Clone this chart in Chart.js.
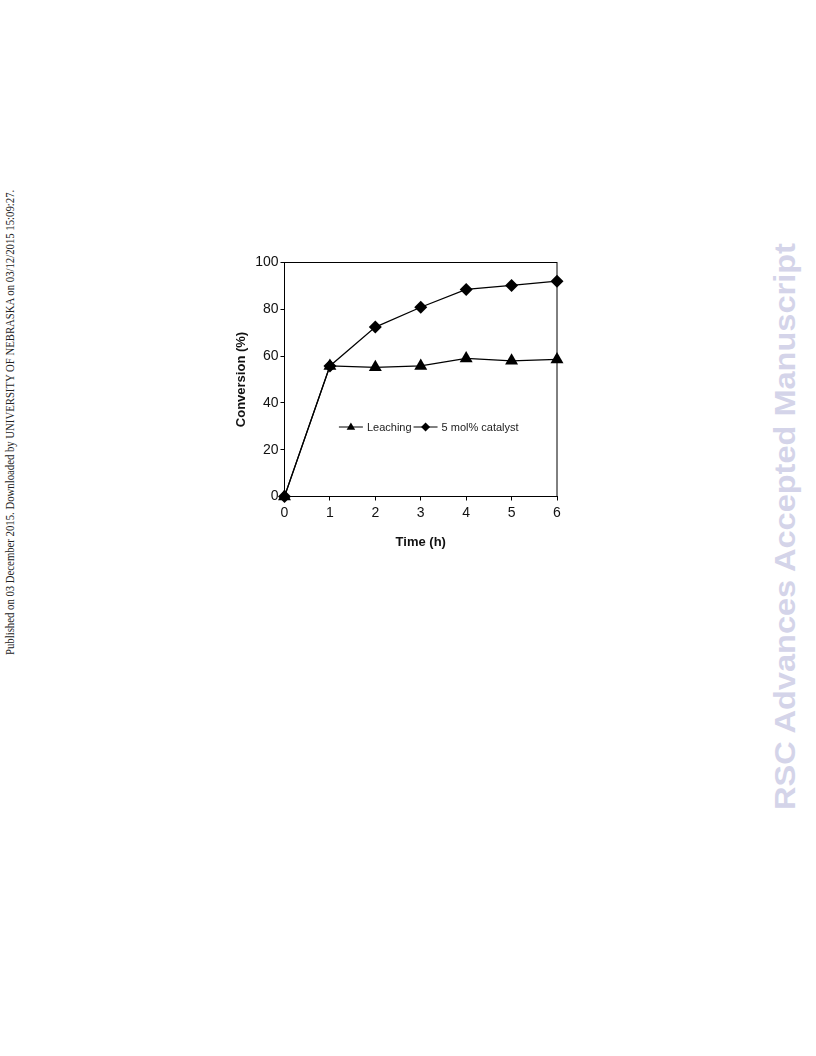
<!DOCTYPE html>
<html lang="en">
<head>
    <meta charset="UTF-8">
    <title>Conversion vs time</title>
    <script src="https://cdn.jsdelivr.net/npm/chart.js"></script>
    <style>
        body { margin: 0; width: 816px; height: 1056px; background: #fff; position: relative; overflow: hidden; }
        .wrap { position: absolute; left: 225px; top: 252px; width: 345px; height: 305px; }
        .side { position: absolute; white-space: nowrap; transform-origin: 0 0; line-height: 1; }
        #pub { font-family: "Liberation Serif", "Times New Roman", serif; font-size: 12px; color: #222; }
        #rsc { font-family: "Liberation Sans", Arial, sans-serif; font-weight: bold; font-size: 30px; color: #d4d4e9; }
    </style>
</head>
<body>
    <div id="pub" class="side">Published on 03 December 2015. Downloaded by UNIVERSITY OF NEBRASKA on 03/12/2015 15:09:27.</div>
    <div id="rsc" class="side">RSC Advances Accepted Manuscript</div>
    <div class="wrap"><canvas id="grafico" width="345" height="305"></canvas></div>

    <script>
        // dados
        const tempos = [0, 1, 2, 3, 4, 5, 6];
        const leaching = [0, 55.8, 55.2, 55.8, 59.0, 58.0, 58.6];
        const catalisador = [0, 55.8, 72.4, 80.9, 88.5, 90.2, 92.0];
        const ticksY = [0, 20, 40, 60, 80, 100];
        const legendas = ["Leaching", "5 mol% catalyst"];

        // textos laterais, girados e esticados no comprimento certo
        function lateral(id, x, yTop, yBottom) {
            const el = document.getElementById(id);
            const w = el.offsetWidth, h = el.offsetHeight;
            const s = (yBottom - yTop) / w;
            el.style.left = (x - h / 2) + "px";
            el.style.top = yBottom + "px";
            el.style.transform = `rotate(-90deg) scaleX(${s})`;
        }
        lateral("pub", 10, 190, 655);
        lateral("rsc", 785, 243, 810);

        const fonte = "'Liberation Sans', Arial, sans-serif";

        const caixa = {
            id: 'caixa',
            afterDraw(chart) {
                const a = chart.chartArea, ctx = chart.ctx;
                ctx.save();
                ctx.strokeStyle = '#000';
                ctx.lineWidth = 1;
                ctx.strokeRect(a.left, a.top, a.right - a.left, a.bottom - a.top);
                ctx.restore();
            }
        };

        function marcador(ctx, tipo, x, y, r) {
            ctx.beginPath();
            if (tipo === 'triangle') {
                ctx.moveTo(x, y - r);
                ctx.lineTo(x + r * 0.95, y + r * 0.6);
                ctx.lineTo(x - r * 0.95, y + r * 0.6);
            } else {
                ctx.moveTo(x, y - r);
                ctx.lineTo(x + r, y);
                ctx.lineTo(x, y + r);
                ctx.lineTo(x - r, y);
            }
            ctx.closePath();
            ctx.fill();
        }

        const legenda = {
            id: 'legenda',
            afterDraw(chart) {
                const ctx = chart.ctx;
                const y = chart.scales.y.getPixelForValue(29.7);
                const a = chart.chartArea;
                ctx.save();
                ctx.font = "11px " + fonte;
                const linha = 24, gap = 4, entre = 2;
                const w0 = ctx.measureText(legendas[0]).width;
                const w1 = ctx.measureText(legendas[1]).width;
                const total = linha + gap + w0 + entre + linha + gap + w1;
                let x = (a.left + a.right) / 2 + 8 - total / 2;
                const tipos = ['triangle', 'diamond'];
                const ws = [w0, w1];
                ctx.fillStyle = '#000';
                ctx.strokeStyle = '#000';
                ctx.lineWidth = 1;
                ctx.textBaseline = 'middle';
                for (let i = 0; i < 2; i++) {
                    ctx.beginPath();
                    ctx.moveTo(x, y);
                    ctx.lineTo(x + linha, y);
                    ctx.stroke();
                    marcador(ctx, tipos[i], x + linha / 2, y, 4.5);
                    ctx.fillStyle = '#222';
                    ctx.fillText(legendas[i], x + linha + gap, y + 0.5);
                    ctx.fillStyle = '#000';
                    x += linha + gap + ws[i] + entre;
                }
                ctx.restore();
            }
        };

        const ctx = document.getElementById("grafico").getContext("2d");
        const grafico = new Chart(ctx, {
            type: 'line',
            data: {
                datasets: [
                    {
                        label: legendas[0],
                        data: tempos.map((t, i) => ({ x: t, y: leaching[i] })),
                        borderColor: '#000', backgroundColor: '#000', borderWidth: 1.2,
                        pointStyle: 'triangle', pointRadius: 7.5, pointBorderWidth: 0,
                        tension: 0, clip: false
                    },
                    {
                        label: legendas[1],
                        data: tempos.map((t, i) => ({ x: t, y: catalisador[i] })),
                        borderColor: '#000', backgroundColor: '#000', borderWidth: 1.2,
                        pointStyle: 'rectRot', pointRadius: 6.5, pointBorderWidth: 0,
                        tension: 0, clip: false
                    }
                ]
            },
            options: {
                responsive: false,
                animation: false,
                layout: { padding: { top: 10.5, right: 13, left: 0, bottom: 0 } },
                plugins: { legend: { display: false }, tooltip: { enabled: false } },
                scales: {
                    x: {
                        type: 'linear', min: 0, max: 6,
                        afterFit(s) { s.height = 60.5; },
                        grid: { drawOnChartArea: false, tickLength: 4, color: '#000' },
                        border: { color: '#000' },
                        ticks: { stepSize: 1, color: '#111', padding: 4, font: { family: fonte, size: 14 } },
                        title: { display: true, text: 'Time (h)', color: '#111', padding: { top: 7, bottom: 7 }, font: { family: fonte, size: 13, weight: 'bold' } }
                    },
                    y: {
                        min: 0, max: 100,
                        afterFit(s) { s.width = 59.5; },
                        afterBuildTicks(s) { s.ticks = ticksY.map(v => ({ value: v })); },
                        grid: { drawOnChartArea: false, tickLength: 4, color: '#000' },
                        border: { color: '#000' },
                        ticks: { color: '#111', padding: 2, font: { family: fonte, size: 14 } },
                        title: { display: true, text: 'Conversion (%)', color: '#111', padding: { top: 9, bottom: 9 }, font: { family: fonte, size: 13, weight: 'bold' } }
                    }
                }
            },
            plugins: [caixa, legenda]
        });
    </script>
</body>
</html>
